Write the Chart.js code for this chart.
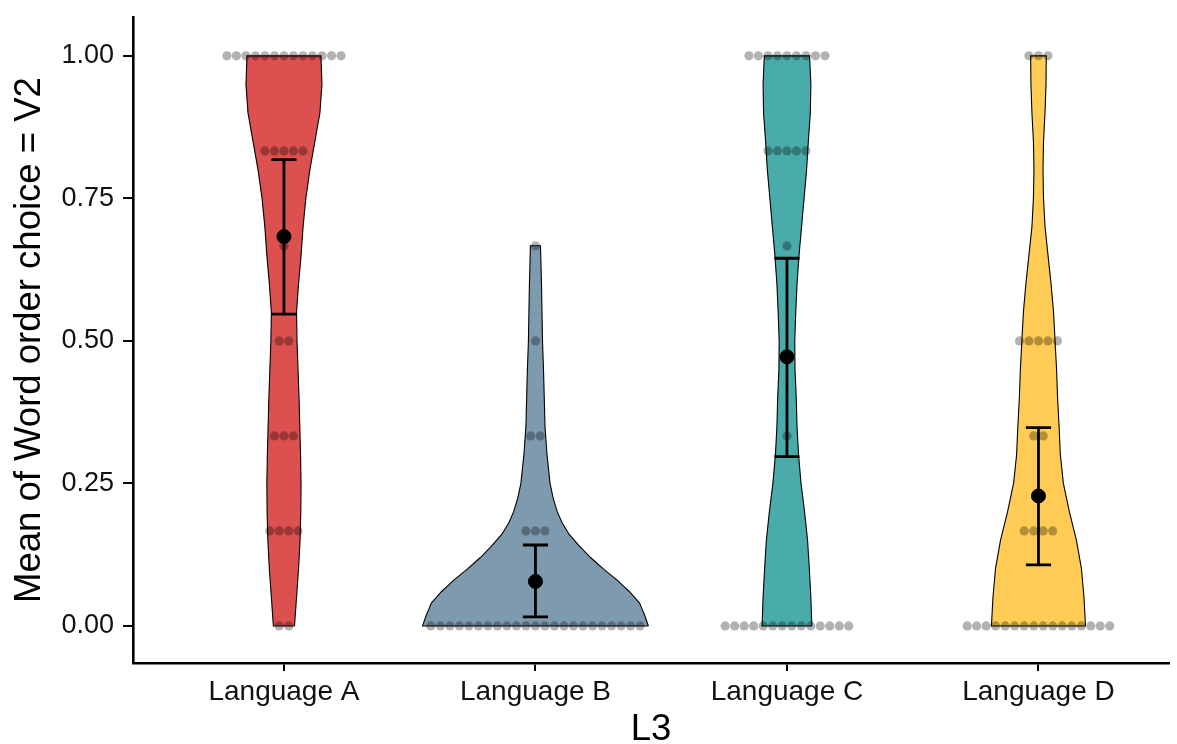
<!DOCTYPE html>
<html>
<head>
<meta charset="utf-8">
<script src="https://cdn.jsdelivr.net/npm/chart.js@4.4.1/dist/chart.umd.min.js"></script>
<style>
  html, body { margin: 0; padding: 0; background: #fff; }
  #wrap { width: 1177px; height: 744px; }
</style>
</head>
<body>
<div id="wrap"><canvas id="chart"></canvas></div>
<script>
/* global Chart */

const languages = ['Language A', 'Language B', 'Language C', 'Language D'];
const fillColors = ['#DC5050', '#7E9AAF', '#4AABAB', '#FFCC55'];
const yTicks = [0, 0.25, 0.5, 0.75, 1];

// answers per participant are in sixths; dot counts per level
const dotLevels = [0, 1 / 6, 2 / 6, 3 / 6, 4 / 6, 5 / 6, 1];
const dotCountsA = [2, 4, 3, 2, 1, 5, 13];
const dotCountsB = [23, 3, 2, 1, 1, 0, 0];
const dotCountsC = [14, 0, 1, 0, 1, 5, 9];
const dotCountsD = [16, 4, 2, 5, 0, 0, 3];

const meanValues = [0.683, 0.078, 0.472, 0.228];
const ciLower = [0.547, 0.016, 0.297, 0.107];
const ciUpper = [0.818, 0.142, 0.645, 0.348];

// violin half-widths (category units) at the given y values
const violinYA = [0, 0.05, 0.1, 0.15, 0.2, 0.25, 0.3, 0.35, 0.4, 0.45, 0.5, 0.55, 0.6, 0.65, 0.7, 0.75, 0.8, 0.85, 0.9, 0.95, 1];
const violinWA = [0.042, 0.050, 0.058, 0.064, 0.067, 0.068, 0.066, 0.063, 0.060, 0.056, 0.052, 0.050, 0.058, 0.068, 0.076, 0.087, 0.103, 0.123, 0.143, 0.151, 0.147];
const violinYB = [0, 0.02, 0.04, 0.06, 0.08, 0.1, 0.12, 0.14, 0.16, 0.18, 0.2, 0.225, 0.25, 0.3, 0.35, 0.4, 0.45, 0.5, 0.55, 0.6, 0.667];
const violinWB = [0.449, 0.433, 0.414, 0.374, 0.326, 0.270, 0.219, 0.175, 0.135, 0.107, 0.087, 0.070, 0.058, 0.046, 0.038, 0.035, 0.032, 0.028, 0.026, 0.024, 0.020];
const violinYC = violinYA;
const violinWC = [0.099, 0.095, 0.089, 0.082, 0.070, 0.056, 0.046, 0.040, 0.037, 0.032, 0.031, 0.035, 0.040, 0.048, 0.058, 0.068, 0.078, 0.085, 0.093, 0.095, 0.090];
const violinYD = violinYA;
const violinWD = [0.187, 0.181, 0.171, 0.151, 0.123, 0.099, 0.087, 0.082, 0.076, 0.072, 0.066, 0.060, 0.050, 0.038, 0.026, 0.020, 0.018, 0.020, 0.026, 0.030, 0.031];

const dotStep = 0.0378;
const capHalf = 0.05;
// tiny tension keeps Chart.js off its x-sorted fast path
const straight = 0.0001;

function violinOutline(center, ys, widths) {
  const right = ys.map((y, i) => ({ x: center + widths[i], y }));
  const left = ys.map((y, i) => ({ x: center - widths[i], y })).reverse();
  return right.concat(left, [right[0]]);
}

function dotPoints(center, counts) {
  const pts = [];
  counts.forEach((n, k) => {
    for (let i = 0; i < n; i += 1) {
      pts.push({ x: center + (i - (n - 1) / 2) * dotStep, y: dotLevels[k] });
    }
  });
  return pts;
}

function errorBar(center, lo, hi) {
  return [
    { x: center - capHalf, y: hi }, { x: center + capHalf, y: hi },
    { x: center, y: hi }, { x: center, y: lo },
    { x: center - capHalf, y: lo }, { x: center + capHalf, y: lo },
  ];
}

function buildChart() {
  const violins = [
    [violinYA, violinWA], [violinYB, violinWB], [violinYC, violinWC], [violinYD, violinWD],
  ];
  const dotCounts = [dotCountsA, dotCountsB, dotCountsC, dotCountsD];
  const datasets = [];

  for (let i = 0; i < languages.length; i += 1) {
    const center = i + 1;
    datasets.push({
      type: 'line',
      label: languages[i] + ' error bar',
      data: errorBar(center, ciLower[i], ciUpper[i]),
      borderColor: '#000',
      borderWidth: 2.8,
      borderJoinStyle: 'miter',
      tension: straight,
      pointRadius: 0,
      showLine: true,
      fill: false,
      order: 0,
    });
    datasets.push({
      type: 'scatter',
      label: languages[i] + ' mean',
      data: [{ x: center, y: meanValues[i] }],
      backgroundColor: '#000',
      borderColor: '#000',
      pointRadius: 7,
      order: 0,
    });
    datasets.push({
      type: 'scatter',
      label: languages[i] + ' dots',
      data: dotPoints(center, dotCounts[i]),
      backgroundColor: 'rgba(0,0,0,0.3)',
      borderWidth: 0,
      pointRadius: 4.6,
      order: 1,
    });
    datasets.push({
      type: 'line',
      label: languages[i],
      data: violinOutline(center, violins[i][0], violins[i][1]),
      borderColor: '#000',
      borderWidth: 1.1,
      backgroundColor: fillColors[i],
      fill: 'shape',
      tension: straight,
      pointRadius: 0,
      showLine: true,
      order: 2,
    });
  }

  const family = '"Liberation Sans", Arial, sans-serif';

  const config = {
    type: 'scatter',
    data: { datasets },
    options: {
      responsive: true,
      maintainAspectRatio: false,
      animation: false,
      layout: { padding: { top: 15, right: 0, left: 12, bottom: 0 } },
      plugins: { legend: { display: false }, tooltip: { enabled: false } },
      scales: {
        x: {
          type: 'linear',
          min: 0.4,
          max: 4.519,
          afterBuildTicks: (axis) => { axis.ticks = [1, 2, 3, 4].map((v) => ({ value: v })); },
          ticks: {
            callback: (v) => languages[v - 1],
            font: { family, size: 28, lineHeight: 1 },
            color: '#111',
            padding: 7,
            maxRotation: 0,
          },
          grid: { drawOnChartArea: false, tickLength: 8, color: '#000', lineWidth: 2 },
          border: { color: '#000', width: 2.6 },
          title: {
            display: true,
            text: 'L3',
            font: { family, size: 36.5, lineHeight: 1 },
            color: '#000',
            padding: { top: -1.75, bottom: -3.75 },
          },
        },
        y: {
          type: 'linear',
          min: -0.065,
          max: 1.068,
          afterBuildTicks: (axis) => { axis.ticks = yTicks.map((v) => ({ value: v })); },
          ticks: {
            callback: (v) => v.toFixed(2),
            font: { family, size: 27, lineHeight: 0.6 },
            color: '#111',
            padding: 9,
          },
          grid: { drawOnChartArea: false, tickLength: 10, color: '#000', lineWidth: 2 },
          border: { color: '#000', width: 2.6 },
          title: {
            display: true,
            text: 'Mean of Word order choice = V2',
            font: { family, size: 36.5, lineHeight: 1 },
            color: '#000',
            padding: { top: 0, bottom: 4 },
          },
        },
      },
    },
  };

  return new Chart(document.getElementById('chart'), config);
}

document.addEventListener('DOMContentLoaded', buildChart);
</script>
</body>
</html>
